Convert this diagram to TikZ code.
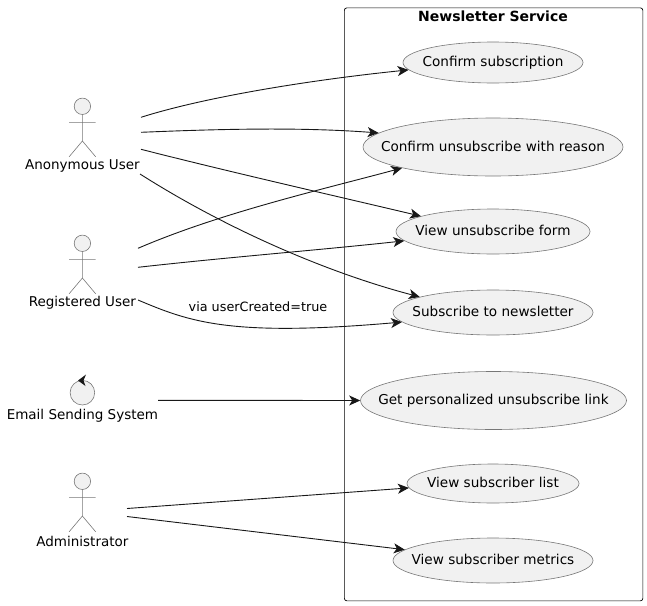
\documentclass[tikz,border=0pt]{standalone}
\usepackage{fontspec}
\setmainfont{DejaVu Sans}
\usetikzlibrary{arrows.meta,shapes.geometric}
\definecolor{fillgray}{HTML}{F1F1F1}
\definecolor{linegray}{HTML}{777777}
\definecolor{edgeblack}{HTML}{181818}
\tikzset{
  uc/.style={ellipse,draw=linegray,fill=fillgray,line width=0.6pt,inner sep=0pt,font=\fontsize{13.6}{15}\selectfont,text=black},
  lbl/.style={font=\fontsize{13.5}{15}\selectfont,inner sep=0pt,text=black},
  limb/.style={draw=linegray,line width=0.6pt},
  edge/.style={draw=edgeblack,line width=0.9pt,-{Stealth[length=11pt,width=10pt,inset=3pt]}},
}
\newcommand{\uct}[1]{\raisebox{-4.2pt}[0pt][0pt]{\makebox[0pt]{#1}}}
\newcommand{\stick}[2]{%
  \begin{scope}[shift={(#1,#2)}]
    \draw[limb,fill=fillgray] (0,0) circle (8.2);
    \draw[limb] (0,8.2) -- (0,34.7) (-13.2,16) -- (13.2,16) (-13.2,50.4) -- (0,34.7) -- (13.2,50.4);
  \end{scope}}
\begin{document}
\begin{tikzpicture}[x=1pt,y=-1pt]
\useasboundingbox (0,0) rectangle (647,605);
\node[draw=black,line width=0.7pt,rounded corners=2.5pt,minimum width=298.5pt,minimum height=593pt,inner sep=0pt,anchor=north west] (frame) at (344,7.5) {};
\node[font=\fontsize{14}{16}\selectfont\bfseries] (title) at (493,16.5) {Newsletter Service};

\node[uc,minimum width=180pt,minimum height=41pt] (cs) at (493,62.5) {\uct{Confirm subscription}};
\node[uc,minimum width=260pt,minimum height=58pt] (cu) at (493,147) {\uct{Confirm unsubscribe with reason}};
\node[uc,minimum width=194pt,minimum height=45pt] (vf) at (493,231.5) {\uct{View unsubscribe form}};
\node[uc,minimum width=200pt,minimum height=45pt] (sn) at (493,312.5) {\uct{Subscribe to newsletter}};
\node[uc,minimum width=266pt,minimum height=58pt] (gl) at (493.5,400.5) {\uct{Get personalized unsubscribe link}};
\node[uc,minimum width=172pt,minimum height=39pt] (vl) at (493,483.5) {\uct{View subscriber list}};
\node[uc,minimum width=200pt,minimum height=45pt] (vm) at (493,560.5) {\uct{View subscriber metrics}};

\stick{82.4}{106.3}
\stick{82.4}{243.3}
\stick{82.4}{481.3}
\node[lbl] (anon) at (82.4,166) {Anonymous User};
\node[lbl] (reg) at (82.4,303) {Registered User};
\node[lbl] (adm) at (82.4,541) {Administrator};
\node[lbl] (email) at (82.4,416) {Email Sending System};
\node[circle,draw=linegray,fill=fillgray,line width=0.6pt,minimum size=24.6pt,inner sep=0pt] (ctl) at (82.4,392.7) {};
\fill[edgeblack] (78,380.5) -- (86,374.5) -- (83.5,380.5) -- (85.5,386) -- cycle;

\coordinate (a1) at (141,117.3);
\coordinate (a2) at (141,132.3);
\coordinate (a3) at (141,149.3);
\coordinate (a4) at (140,174);
\coordinate (r1) at (138,248.3);
\coordinate (r2) at (138,267.3);
\coordinate (r3) at (138,300);
\coordinate (e1) at (158,400.3);
\coordinate (d1) at (127,508.5);
\coordinate (d2) at (127,516.5);

\draw[edge] (a1) .. controls (205,97) and (310,80) .. (cs.185);
\draw[edge] (a2) .. controls (220,129) and (300,127) .. (cu.173.6);
\draw[edge] (a3) .. controls (230,172) and (340,197) .. (vf.168.3);
\draw[edge] (a4) .. controls (225,228) and (325,272) .. (sn.168.5);
\draw[edge] (r1) .. controls (220,213) and (320,190) .. (cu.193.5);
\draw[edge] (r2) .. controls (230,257) and (320,250) .. (vf.186);
\draw[edge] (r3) .. controls (190,322) and (230,337) .. (sn.186.7);
\draw[edge] (e1) -- (gl.west);
\draw[edge] (d1) -- (vl.183.8);
\draw[edge] (d2) -- (vm.173.2);
\node[font=\fontsize{12.8}{14}\selectfont,inner sep=0pt] (via) at (258,307) {via userCreated=true};
\end{tikzpicture}
\end{document}
